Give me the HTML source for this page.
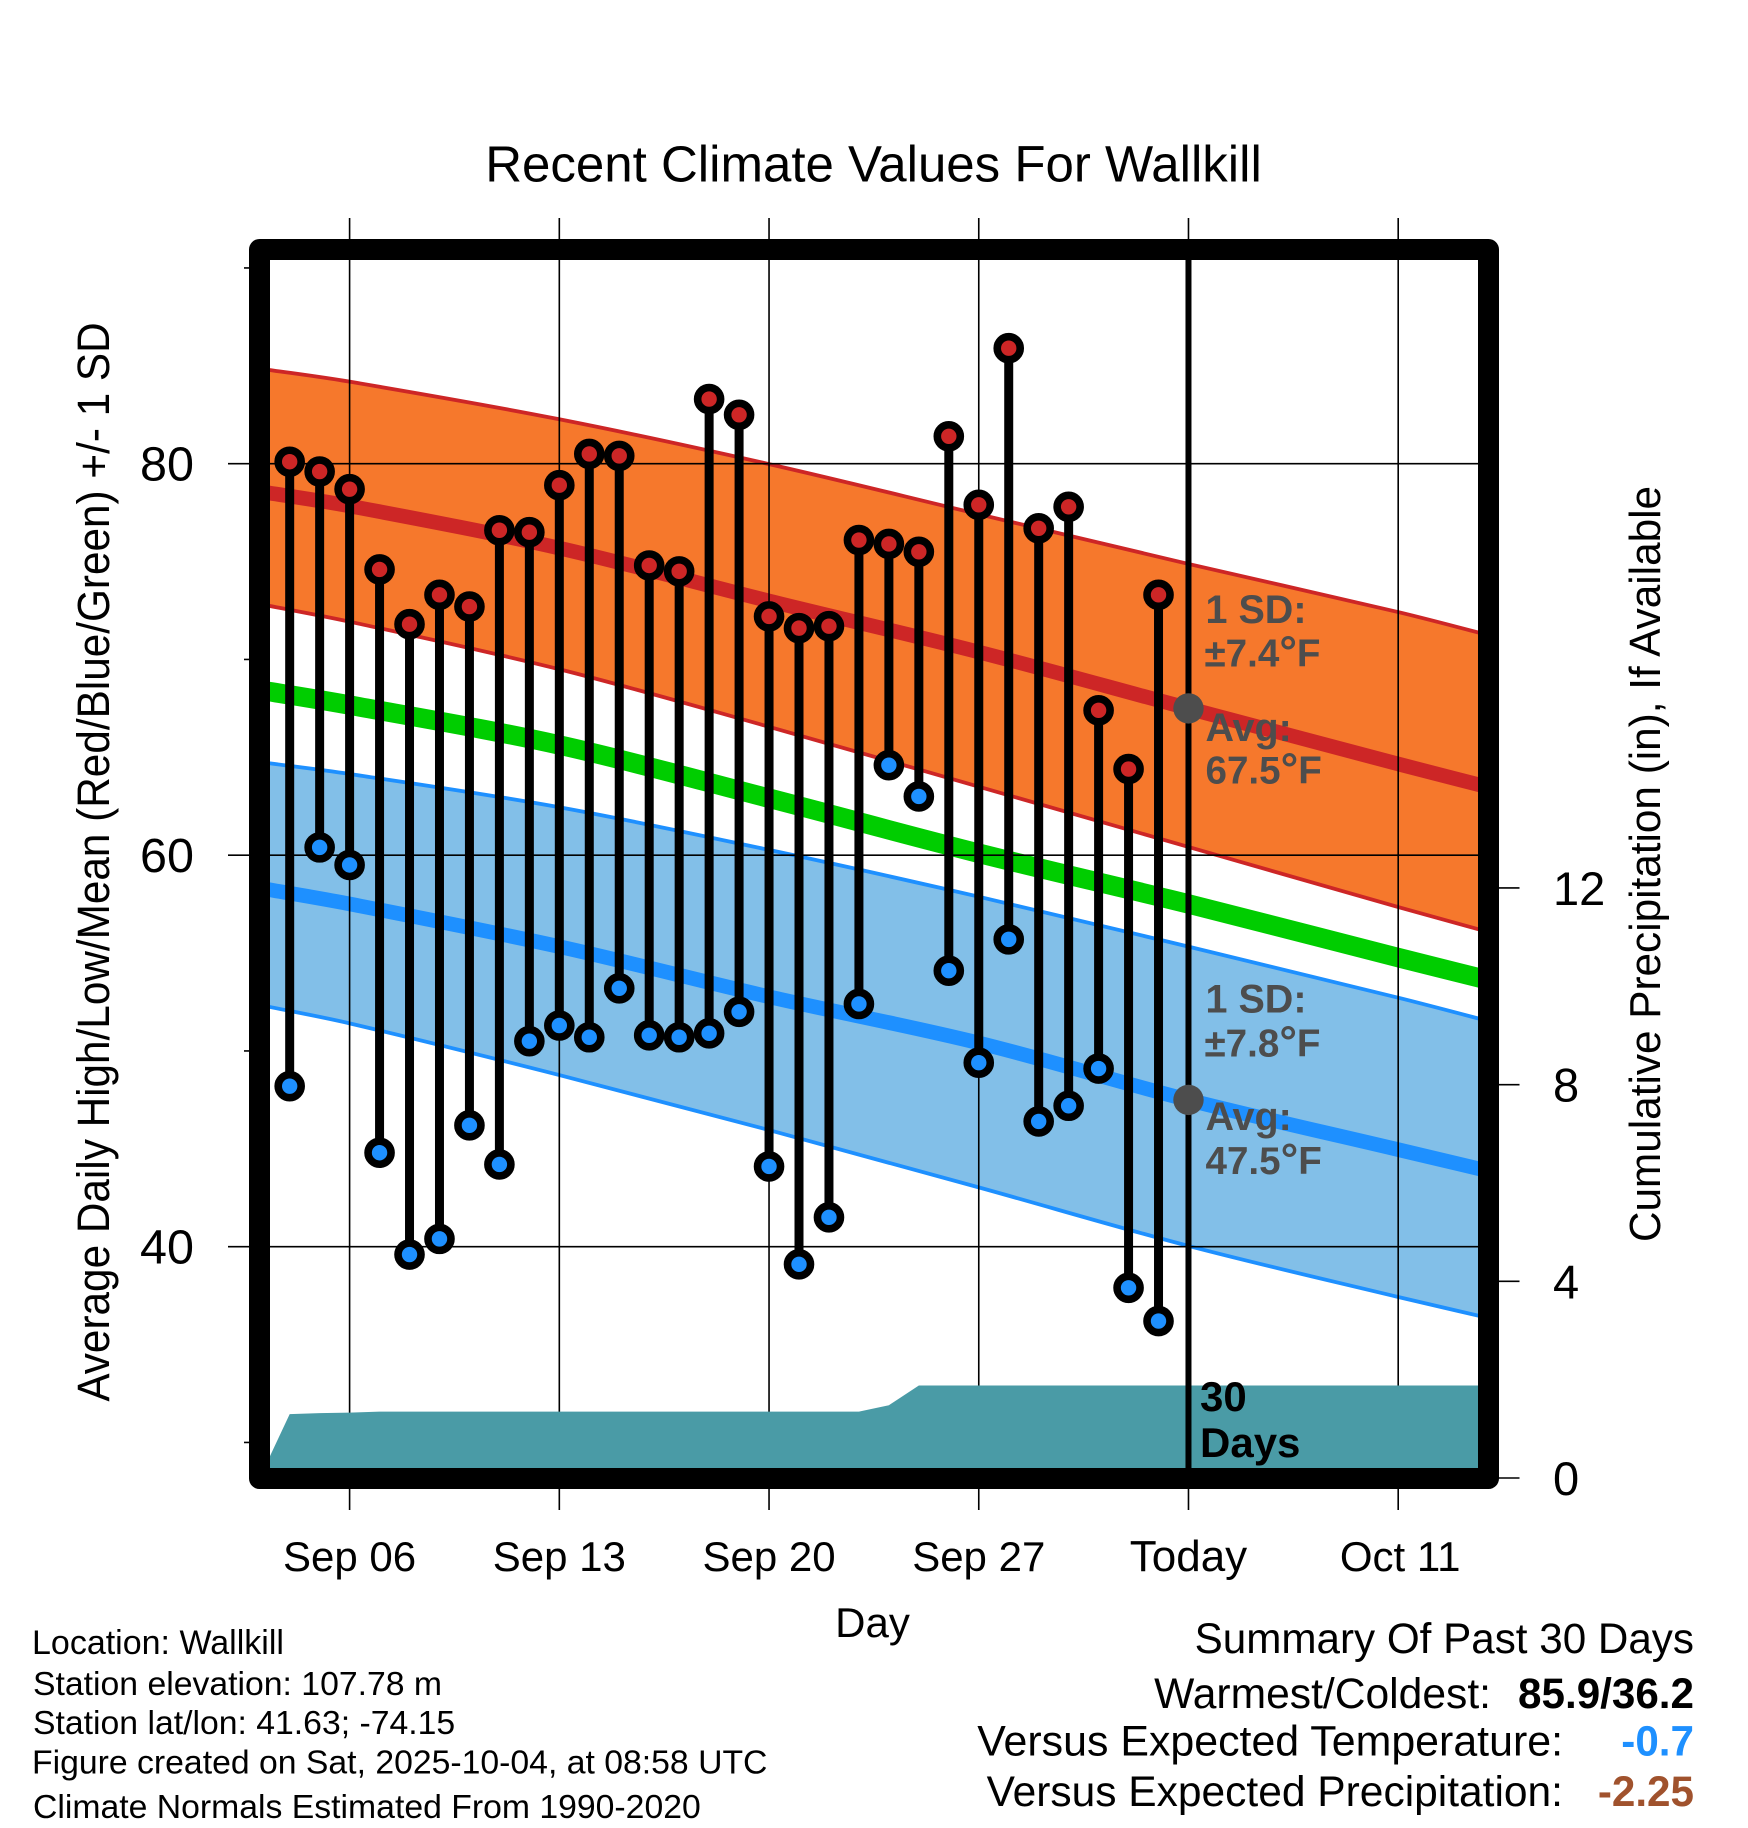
<!DOCTYPE html>
<html lang="en">
<head>
<meta charset="utf-8">
<title>Recent Climate Values For Wallkill</title>
<style>
html,body{margin:0;padding:0;background:#fff;}
svg{display:block;}
text{font-family:"Liberation Sans",Arial,sans-serif;fill:#000;}
.note{font-weight:bold;font-size:39.5px;fill:#4d4d4d;}
.noteval{font-weight:bold;font-size:38.6px;fill:#4d4d4d;}
.foot{font-size:33.75px;}
.sum{font-size:42.6px;text-anchor:end;}
.val{font-size:42.2px;text-anchor:end;font-weight:bold;}
</style>
</head>
<body>
<svg id="chart" xmlns="http://www.w3.org/2000/svg" width="1748" height="1828" viewBox="0 0 1748 1828">
  <rect x="0" y="0" width="1748" height="1828" fill="#fff"/>
  <g id="bands"></g>
  <g id="grid"></g>
  <g id="precip"></g>
  <g id="today"></g>
  <g id="marks"></g>
  <rect x="259.5" y="249.5" width="1229" height="1229" fill="none" stroke="#000" stroke-width="21" stroke-linejoin="round"/>
  <g id="ticks"></g>

  <text x="873.5" y="181.7" font-size="51" text-anchor="middle">Recent Climate Values For Wallkill</text>
  <text transform="translate(109,862) rotate(-90) scale(1,1.08)" font-size="42.3" text-anchor="middle">Average Daily High/Low/Mean (Red/Blue/Green) +/- 1 SD</text>
  <text transform="translate(1660,864) rotate(-90) scale(1,1.04)" font-size="42.3" text-anchor="middle">Cumulative Precipitation (in), If Available</text>
  <text x="872.5" y="1637" font-size="42" text-anchor="middle">Day</text>

  <text class="note" x="1205.5" y="622.8">1 SD:</text>
  <text class="noteval" x="1204.5" y="666.5">±7.4<tspan font-size="44">°</tspan>F</text>
  <text class="note" x="1205.5" y="741">Avg:</text>
  <text class="noteval" x="1205.5" y="783.5">67.5<tspan font-size="44">°</tspan>F</text>
  <text class="note" x="1205.5" y="1012.5">1 SD:</text>
  <text class="noteval" x="1204.5" y="1056.7">±7.8<tspan font-size="44">°</tspan>F</text>
  <text class="note" x="1205.5" y="1130">Avg:</text>
  <text class="noteval" x="1205.5" y="1174">47.5<tspan font-size="44">°</tspan>F</text>

  <text x="1200" y="1411" font-size="42" font-weight="bold">30</text>
  <text x="1200" y="1457" font-size="42" font-weight="bold">Days</text>

  <text class="foot" x="32" y="1654" style="font-size:34px">Location: Wallkill</text>
  <text class="foot" x="33" y="1695">Station elevation: 107.78 m</text>
  <text class="foot" x="33" y="1734">Station lat/lon: 41.63; -74.15</text>
  <text class="foot" x="32" y="1773.5">Figure created on Sat, 2025-10-04, at 08:58 UTC</text>
  <text class="foot" x="33" y="1818">Climate Normals Estimated From 1990-2020</text>

  <text class="sum" x="1694" y="1653" style="font-size:42.2px">Summary Of Past 30 Days</text>
  <text class="sum" x="1491" y="1708">Warmest/Coldest:</text>
  <text class="val" x="1694" y="1708">85.9/36.2</text>
  <text class="sum" x="1563" y="1755.5" style="font-size:42.9px">Versus Expected Temperature:</text>
  <text class="val" x="1694" y="1755.5" style="fill:#1e90ff">-0.7</text>
  <text class="sum" x="1563" y="1806" style="font-size:42.5px">Versus Expected Precipitation:</text>
  <text class="val" x="1694" y="1806" style="fill:#a0522d">-2.25</text>
</svg>
<script>
// Days counted from Sep 06 (day 0)
const dayTicks = [0, 7, 14, 21, 28, 35];
const dayTickLabels = ['Sep 06', 'Sep 13', 'Sep 20', 'Sep 27', 'Today', 'Oct 11'];
const tempMajorTicks = [80, 60, 40];
const tempMinorTicks = [90, 70, 50, 30];
const precipTicks = [0, 4, 8, 12];

const obsDays = [-2,-1,0,1,2,3,4,5,6,7,8,9,10,11,12,13,14,15,16,17,18,19,20,21,22,23,24,25,26,27];
const highs = [80.1,79.6,78.7,74.6,71.8,73.3,72.7,76.6,76.5,78.9,80.5,80.4,74.8,74.5,83.3,82.5,72.2,71.6,71.7,76.1,75.9,75.5,81.4,77.9,85.9,76.7,77.8,67.4,64.4,73.3];
const lows = [48.2,60.4,59.5,44.8,39.6,40.4,46.2,44.2,50.5,51.3,50.7,53.2,50.8,50.7,50.9,52.0,44.1,39.1,41.5,52.4,64.6,63.0,54.1,49.4,55.7,46.4,47.2,49.1,37.9,36.2];

const normalDays = [-3, 0, 7, 14, 21, 28, 35, 38];
const highUpper = [84.86,84.19,82.27,79.98,77.42,74.88,72.42,71.25];
const highMean = [78.58,77.84,75.69,72.99,70.38,67.5,64.66,63.48];
const highLower = [72.83,71.93,69.5,66.56,63.5,60.42,57.35,56.08];
const dailyMean = [68.44,67.67,65.63,62.91,60.1,57.51,54.77,53.62];
const lowUpper = [64.76,64.15,62.45,60.27,57.88,55.33,52.72,51.53];
const lowMean = [58.32,57.51,55.33,52.77,50.41,47.5,44.96,43.87];
const lowLower = [52.35,51.41,48.77,45.96,43.03,40.04,37.43,36.36];

const todayDay = [28];
const todayHighAvg = [67.5];
const todayLowAvg = [47.5];

const precipDays = [-3,-2,-1,0,1,17,18,19,38];
const precipValues = [0,1.30,1.32,1.33,1.35,1.35,1.48,1.88,1.88];

const xDay = d => 349.6 + d * 29.96;
const yTemp = t => 463.7 + (80 - t) * 19.575;
const yPrecip = p => 1478 - p * 49.17;

const NS = 'http://www.w3.org/2000/svg';
function mk(tag, attrs, parent) {
  const node = document.createElementNS(NS, tag);
  for (const k in attrs) node.setAttribute(k, attrs[k]);
  parent.appendChild(node);
  return node;
}
const fix = v => v.toFixed(2);

// Smooth path segments through the series values (cubic Hermite with finite-difference tangents)
function smoothSegs(days, vals) {
  const px = days.map(xDay);
  const py = vals.map(yTemp);
  const n = px.length;
  const slope = i => {
    const a = Math.max(i - 1, 0), b = Math.min(i + 1, n - 1);
    return (py[b] - py[a]) / (px[b] - px[a]);
  };
  const segs = [];
  for (let i = 0; i < n - 1; i++) {
    const h = (px[i + 1] - px[i]) / 3;
    segs.push('C' + fix(px[i] + h) + ' ' + fix(py[i] + slope(i) * h) + ' ' +
      fix(px[i + 1] - h) + ' ' + fix(py[i + 1] - slope(i + 1) * h) + ' ' +
      fix(px[i + 1]) + ' ' + fix(py[i + 1]));
  }
  return {start: fix(px[0]) + ' ' + fix(py[0]), segs: segs.join('')};
}
function linePath(days, vals) {
  const s = smoothSegs(days, vals);
  return 'M' + s.start + s.segs;
}
function bandPath(days, upper, lower) {
  const a = smoothSegs(days, upper);
  const b = smoothSegs(days.slice().reverse(), lower.slice().reverse());
  return 'M' + a.start + a.segs + 'L' + b.start + b.segs + 'Z';
}

const bands = document.getElementById('bands');
const grid = document.getElementById('grid');
const precip = document.getElementById('precip');
const today = document.getElementById('today');
const marks = document.getElementById('marks');
const ticks = document.getElementById('ticks');

// Standard deviation bands
const highBand = mk('path', {d: bandPath(normalDays, highUpper, highLower), fill: '#f6782c'}, bands);


const lowBand = mk('path', {d: bandPath(normalDays, lowUpper, lowLower), fill: '#82bfe8'}, bands);



function curve(vals, color, width) {
  return mk('path', {d: linePath(normalDays, vals), fill: 'none', stroke: color, 'stroke-width': width}, bands);
}
const l1 = curve(highUpper, '#cd2626', 3.8);


const l2 = curve(highLower, '#cd2626', 3.8);


const l3 = curve(highMean, '#cd2626', 14.6);


const l4 = curve(dailyMean, '#00cd00', 19.5);


const l5 = curve(lowUpper, '#1e90ff', 3.8);


const l6 = curve(lowLower, '#1e90ff', 3.8);


const l7 = curve(lowMean, '#1e90ff', 14.6);



// Grid and outer ticks
dayTicks.forEach((d, i) => {
  const line = mk('line', {x1: xDay(d), x2: xDay(d), y1: 218, y2: 1510, stroke: '#000', 'stroke-width': 1.6}, grid);
  
  
  const isToday = dayTickLabels[i] === 'Today';
  const nudge = dayTickLabels[i] === 'Oct 11' ? 2 : 0;
  const label = mk('text', {x: xDay(d) + nudge, y: 1571, 'font-size': isToday ? 44 : 42, 'text-anchor': 'middle'}, ticks);
  label.textContent = dayTickLabels[i];
  
  
});
tempMajorTicks.forEach(t => {
  const line = mk('line', {x1: 228, x2: 1478, y1: yTemp(t), y2: yTemp(t), stroke: '#000', 'stroke-width': 1.6}, grid);
  
  
  const label = mk('text', {x: 194, y: yTemp(t) + 17, 'font-size': 48.5, 'text-anchor': 'end'}, ticks);
  label.textContent = String(t);
  
  
});
tempMinorTicks.forEach(t => {
  const line = mk('line', {x1: 244, x2: 250, y1: yTemp(t), y2: yTemp(t), stroke: '#000', 'stroke-width': 1.6}, ticks);
  
  
});
precipTicks.forEach(p => {
  const line = mk('line', {x1: 1498, x2: 1519.5, y1: yPrecip(p), y2: yPrecip(p), stroke: '#000', 'stroke-width': 1.6}, ticks);
  
  
  const label = mk('text', {x: 1553, y: yPrecip(p) + 17, 'font-size': 47}, ticks);
  label.textContent = String(p);
  
  
});

// Cumulative precipitation area
const areaPts = precipDays.map((d, i) => fix(xDay(d)) + ',' + fix(yPrecip(precipValues[i])));
areaPts.push(fix(xDay(precipDays[precipDays.length - 1])) + ',' + fix(yPrecip(0)));
areaPts.push(fix(xDay(precipDays[0])) + ',' + fix(yPrecip(0)));
const area = mk('polygon', {points: areaPts.join(' '), fill: '#4a9ba6'}, precip);



// Today marker line
const todayLine = mk('line', {x1: xDay(todayDay[0]), x2: xDay(todayDay[0]), y1: 255, y2: 1472, stroke: '#000', 'stroke-width': 6}, today);



// Daily high/low stems and markers
obsDays.forEach((d, i) => {
  const stem = mk('line', {x1: xDay(d), x2: xDay(d), y1: yTemp(highs[i]), y2: yTemp(lows[i]), stroke: '#000', 'stroke-width': 9}, marks);
  
  
});
obsDays.forEach((d, i) => {
  const hi = mk('circle', {cx: xDay(d), cy: yTemp(highs[i]), r: 11.5, fill: '#cd2626', stroke: '#000', 'stroke-width': 7.6}, marks);
  
  
  const lo = mk('circle', {cx: xDay(d), cy: yTemp(lows[i]), r: 11.5, fill: '#1e90ff', stroke: '#000', 'stroke-width': 7.6}, marks);
  
  
});

// Today normal dots
const dotHigh = mk('circle', {cx: xDay(todayDay[0]), cy: yTemp(todayHighAvg[0]), r: 15.2, fill: '#4d4d4d'}, marks);


const dotLow = mk('circle', {cx: xDay(todayDay[0]), cy: yTemp(todayLowAvg[0]), r: 15.2, fill: '#4d4d4d'}, marks);


</script>
</body>
</html>
